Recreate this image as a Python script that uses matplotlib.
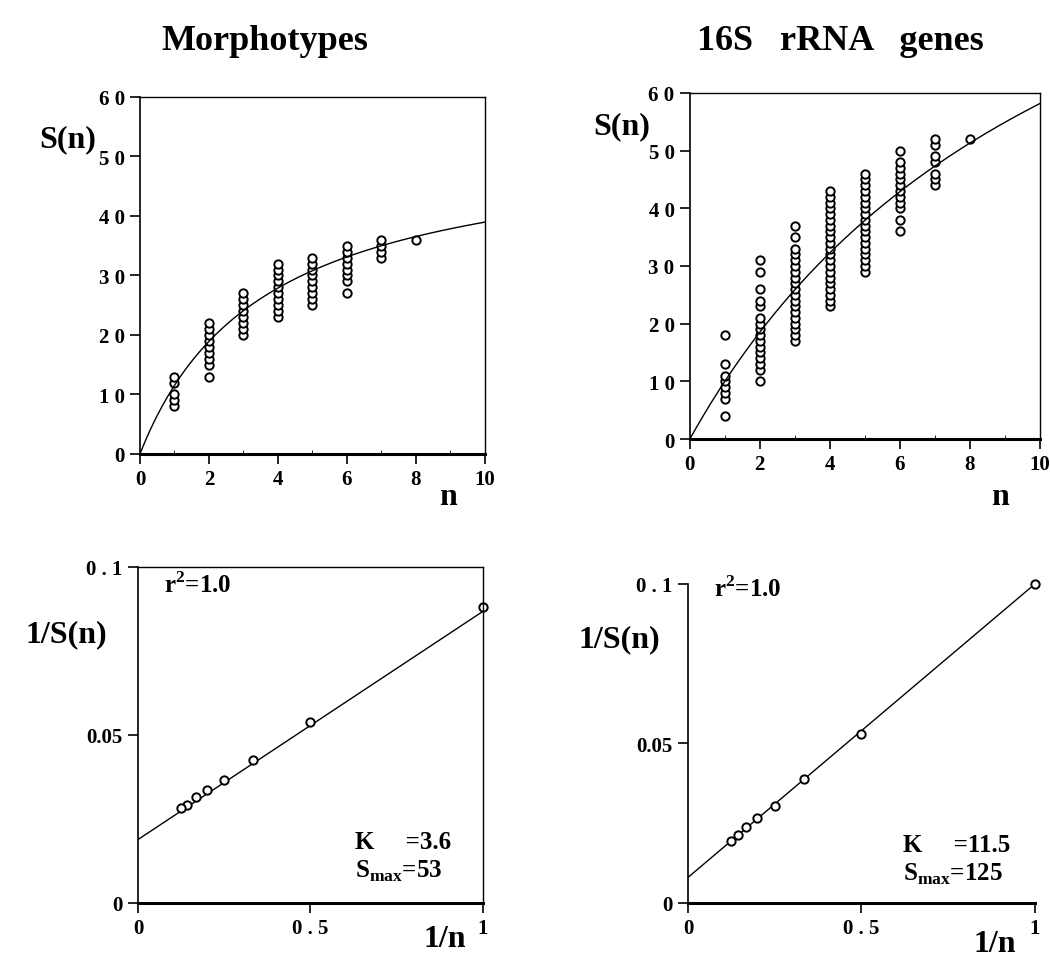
import numpy as np
import matplotlib
matplotlib.use("Agg")
import matplotlib.pyplot as plt

plt.rcParams['font.family'] = ['Liberation Serif', 'DejaVu Serif']
plt.rcParams['font.weight'] = 'bold'
plt.rcParams['mathtext.fontset'] = 'custom'
plt.rcParams['mathtext.rm'] = 'Liberation Serif:bold'
plt.rcParams['mathtext.bf'] = 'Liberation Serif:bold'

morph_n = [1, 2, 3, 4, 5, 6, 7, 8]
morph_s = [
    [8, 9, 10, 12, 13],
    [13, 15, 16, 17, 18, 19, 20, 21, 22],
    [20, 21, 22, 23, 24, 25, 26, 27],
    [23, 24, 25, 26, 27, 28, 29, 30, 31, 32],
    [25, 26, 27, 28, 29, 30, 31, 32, 33],
    [27, 29, 30, 31, 32, 33, 34, 35],
    [33, 34, 35, 36],
    [36],
]

rrna_n = [1, 2, 3, 4, 5, 6, 7, 8]
rrna_s = [
    [4, 7, 8, 9, 10, 11, 13, 18],
    [10, 12, 13, 14, 15, 16, 17, 18, 19, 20, 21, 23, 24, 26, 29, 31],
    [17, 18, 19, 20, 21, 22, 23, 24, 25, 26, 27, 28, 29, 30, 31, 32, 33, 35, 37],
    [23, 24, 25, 26, 27, 28, 29, 30, 31, 32, 33, 34, 35, 36, 37, 38, 39, 40, 41, 42, 43],
    [29, 30, 31, 32, 33, 34, 35, 36, 37, 38, 39, 40, 41, 42, 43, 44, 45, 46],
    [36, 38, 40, 41, 42, 43, 44, 45, 46, 47, 48, 50],
    [44, 45, 46, 48, 49, 51, 52],
    [52],
]

# double reciprocal points
morph_inv_n = [1, 0.5, 0.333, 0.25, 0.2, 0.167, 0.143, 0.125]
morph_inv_s = [0.088, 0.054, 0.0425, 0.0365, 0.0335, 0.0315, 0.0292, 0.0282]
rrna_inv_n = [1, 0.5, 0.333, 0.25, 0.2, 0.167, 0.143, 0.125]
rrna_inv_s = [0.100, 0.053, 0.039, 0.0305, 0.0265, 0.0237, 0.0212, 0.0195]

# fitted parameters
morph_K, morph_Smax = 3.6, 53
rrna_K, rrna_Smax = 11.5, 125

fig = plt.figure(figsize=(10.5, 9.78), dpi=100)
fig.patch.set_facecolor('white')

mk = dict(marker='o', ls='none', ms=6, mfc='white', mec='black', mew=1.4)


def style_axes(ax, box=True):
    for s in ['top', 'right']:
        ax.spines[s].set_visible(box)
        ax.spines[s].set_linewidth(1.0)
    ax.spines['left'].set_linewidth(1.2)
    ax.spines['bottom'].set_linewidth(2.2)
    ax.tick_params(direction='out', length=7, width=1.2, labelsize=15, pad=4)
    for lab in ax.get_xticklabels() + ax.get_yticklabels():
        lab.set_fontweight('bold')


def top_panel(rect, ns, ss, K, Smax):
    ax = fig.add_axes(rect)
    for n, vals in zip(ns, ss):
        ax.plot([n] * len(vals), vals, **mk)
    xx = np.linspace(0, 10, 200)
    ax.plot(xx, Smax * xx / (K + xx), color='black', lw=1.0)
    ax.set_xlim(0, 10)
    ax.set_ylim(0, 60)
    ax.set_xticks([0, 2, 4, 6, 8, 10])
    ax.set_xticklabels(['0', '2', '4', '6', '8', '10'])
    ax.set_xticks([1, 3, 5, 7, 9], minor=True)
    ax.set_yticks([0, 10, 20, 30, 40, 50, 60])
    ax.set_yticklabels(['0', '1 0', '2 0', '3 0', '4 0', '5 0', '6 0'])
    ax.tick_params(which='minor', direction='in', length=3)
    style_axes(ax)
    return ax


def bottom_panel(rect, xs, ys, K, Smax, box=True):
    ax = fig.add_axes(rect)
    xx = np.linspace(0, 1, 50)
    ax.plot(xx, 1 / Smax + (K / Smax) * xx, color='black', lw=1.0)
    ax.plot(xs, ys, **mk, clip_on=False)
    ax.set_xlim(0, 1)
    ax.set_ylim(0, 0.1)
    ax.set_xticks([0, 0.5, 1])
    ax.set_xticklabels(['0', '0 . 5', '1'])
    ax.set_yticks([0, 0.05, 0.1])
    ax.set_yticklabels(['0', '0.05', '0 . 1'])
    style_axes(ax, box)
    return ax


ax1 = top_panel([0.1333, 0.5348, 0.3286, 0.365], morph_n, morph_s, morph_K, morph_Smax)
ax2 = top_panel([0.657, 0.5501, 0.333, 0.3538], rrna_n, rrna_s, rrna_K, rrna_Smax)
ax3 = bottom_panel([0.1314, 0.0757, 0.3286, 0.3436], morph_inv_n, morph_inv_s, morph_K, morph_Smax)
ax4 = bottom_panel([0.6552, 0.0757, 0.3305, 0.3262], rrna_inv_n, rrna_inv_s, rrna_K, rrna_Smax, box=False)

big = dict(fontsize=23, fontweight='bold', ha='center', va='center')
fig.text(265 / 1050, 1 - 42 / 978, 'Morphotypes', fontsize=26, fontweight='bold', ha='center', va='center')
fig.text(840 / 1050, 1 - 42 / 978, '16S   rRNA   genes', fontsize=26, fontweight='bold', ha='center', va='center')

fig.text(68 / 1050, 1 - 140 / 978, 'S(n)', **big)
fig.text(622 / 1050, 1 - 127 / 978, 'S(n)', **big)
fig.text(448 / 1050, 1 - 498 / 978, 'n', **big)
fig.text(1000 / 1050, 1 - 498 / 978, 'n', **big)
fig.text(66 / 1050, 1 - 635 / 978, '1/S(n)', **big)
fig.text(619 / 1050, 1 - 640 / 978, '1/S(n)', **big)
fig.text(445 / 1050, 1 - 940 / 978, '1/n', **big)
fig.text(995 / 1050, 1 - 945 / 978, '1/n', **big)

ann = dict(fontsize=18, fontweight='bold', ha='left', va='center')
fig.text(164 / 1050, 1 - 585 / 978, r'r$^2$=1.0', **ann)
fig.text(714 / 1050, 1 - 589 / 978, r'r$^2$=1.0', **ann)
fig.text(355 / 1050, 1 - 843 / 978, 'K     =3.6', **ann)
fig.text(355 / 1050, 1 - 871 / 978, r'S$_{\mathrm{max}}$=53', **ann)
fig.text(903 / 1050, 1 - 846 / 978, 'K     =11.5', **ann)
fig.text(903 / 1050, 1 - 874 / 978, r'S$_{\mathrm{max}}$=125', **ann)

fig.savefig('out.png', dpi=100, facecolor='white')
